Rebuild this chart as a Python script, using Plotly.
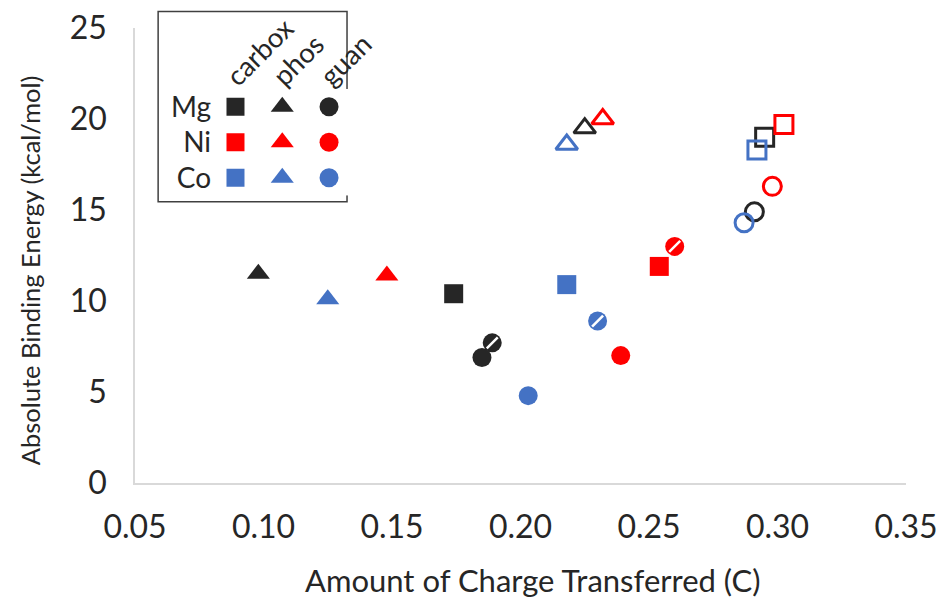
import plotly.graph_objects as go

# ---- data ----
metals = ["Mg", "Ni", "Co"]
ligands = ["carbox", "phos", "guan"]
metal_colors = ["#262626", "#FF0000", "#4472C4"]

filled_carbox_x = [0.174, 0.254, 0.218]
filled_carbox_y = [10.4, 11.9, 10.9]
filled_phos_x = [0.098, 0.148, 0.125]
filled_phos_y = [11.5, 11.4, 10.1]
filled_guan_x = [0.185, 0.239, 0.203]
filled_guan_y = [6.9, 7.0, 4.8]
hatched_guan_x = [0.189, 0.260, 0.230]
hatched_guan_y = [7.7, 13.0, 8.9]
open_carbox_x = [0.295, 0.3025, 0.292]
open_carbox_y = [19.0, 19.7, 18.3]
open_phos_x = [0.225, 0.232, 0.218]
open_phos_y = [19.5, 20.0, 18.6]
open_guan_x = [0.291, 0.298, 0.287]
open_guan_y = [14.9, 16.3, 14.3]

x_ticks = [0.05, 0.10, 0.15, 0.20, 0.25, 0.30, 0.35]
y_ticks = [0, 5, 10, 15, 20, 25]

FONT = "Lato"
TXT = "#262626"
fig = go.Figure()

def add(x, y, symbol, color, size, lw=0):
    fig.add_trace(go.Scatter(
        x=x, y=y, mode="markers", showlegend=False, hoverinfo="skip",
        marker=dict(symbol=symbol, size=size, color=color,
                    line=dict(color=color, width=lw))))

# open markers
for i, c in enumerate(metal_colors):
    add([open_phos_x[i]], [open_phos_y[i]], "triangle-up-open", c, 19, lw=3)
    add([open_guan_x[i]], [open_guan_y[i]], "circle-open", c, 18, lw=3)
for i, c in enumerate(metal_colors):
    add([open_carbox_x[i]], [open_carbox_y[i]], "square-open", c, 18, lw=3)
# hatched circles
for i, c in enumerate(metal_colors):
    add([hatched_guan_x[i]], [hatched_guan_y[i]], "circle", c, 19)
    fig.add_trace(go.Scatter(
        x=[hatched_guan_x[i]], y=[hatched_guan_y[i]], mode="markers",
        showlegend=False, hoverinfo="skip",
        marker=dict(symbol="line-ne", size=11, color="white",
                    line=dict(color="white", width=2.5))))
# filled markers
for i, c in enumerate(metal_colors):
    add([filled_carbox_x[i]], [filled_carbox_y[i]], "square", c, 19)
    add([filled_phos_x[i]], [filled_phos_y[i]], "triangle-up", c, 20)
    add([filled_guan_x[i]], [filled_guan_y[i]], "circle", c, 19)

# ---- legend grid on secondary axes ----
leg_symbols = ["square", "triangle-up", "circle"]
leg_sizes = [18, 20, 19]
for i, m in enumerate(metals):
    for j, lg in enumerate(ligands):
        fig.add_trace(go.Scatter(
            x=[lg], y=[m], mode="markers", xaxis="x2", yaxis="y2",
            showlegend=False, hoverinfo="skip",
            marker=dict(symbol=leg_symbols[j], size=leg_sizes[j],
                        color=metal_colors[i], line=dict(width=0))))

axis_common = dict(showgrid=False, zeroline=False, showline=True,
                   linecolor="#d9d9d9", linewidth=1.5, ticks="",
                   automargin=False,
                   tickfont=dict(family=FONT, size=32, color=TXT))

# column headers of the legend grid (rotated)
leg_annotations = [
    dict(text=lg, xref="x2", yref="paper", x=lg, y=0.853,
         xanchor="left", yanchor="bottom", xshift=-19, textangle=-45,
         showarrow=False, font=dict(family=FONT, size=27.5, color=TXT))
    for lg in ligands
]

fig.update_layout(
    width=939, height=602,
    margin=dict(l=135, r=33, t=28, b=119),
    paper_bgcolor="white", plot_bgcolor="white",
    font=dict(family=FONT, color=TXT),
    xaxis=dict(range=[0.05, 0.35], tickvals=x_ticks,
               ticktext=[f"{v:.2f}" for v in x_ticks],
               ticklabelstandoff=15, **axis_common),
    yaxis=dict(range=[0, 25], tickvals=y_ticks,
               ticktext=[str(v) for v in y_ticks],
               ticklabelstandoff=20, **axis_common),
    xaxis2=dict(domain=[0.100, 0.282], anchor="y2", side="top",
                type="category", categoryorder="array", categoryarray=ligands,
                range=[-0.5, 2.5], showgrid=False, zeroline=False,
                showline=False, ticks="", showticklabels=False, automargin=False),
    yaxis2=dict(domain=[0.632, 0.866], anchor="x2",
                type="category", categoryorder="array", categoryarray=metals,
                range=[2.5, -0.5], showgrid=False, zeroline=False,
                showline=False, ticks="", ticklabelstandoff=0, automargin=False,
                tickfont=dict(family=FONT, size=28, color=TXT)),
    shapes=[dict(type="rect", xref="paper", yref="paper",
                 x0=0.030, x1=0.275, y0=0.618, y1=1.036,
                 line=dict(color="#404040", width=1.5), fillcolor="rgba(0,0,0,0)",
                 layer="below")],
    annotations=[
        dict(text="Amount of Charge Transferred (C)", xref="paper", yref="paper",
             x=0.515, y=-0.213, xanchor="center", yanchor="middle",
             showarrow=False, font=dict(family=FONT, size=31, color=TXT)),
        dict(text="Absolute Binding Energy (kcal/mol)", xref="paper", yref="paper",
             x=-0.136, y=0.468, xanchor="center", yanchor="middle", textangle=-90,
             showarrow=False, font=dict(family=FONT, size=25.5, color=TXT)),
    ] + leg_annotations,
)

# remove the default 8px page margin so the figure fills the window exactly
fig.write_html("out.html",
               config={"displayModeBar": False},
               post_script="document.body.style.margin='0';")
